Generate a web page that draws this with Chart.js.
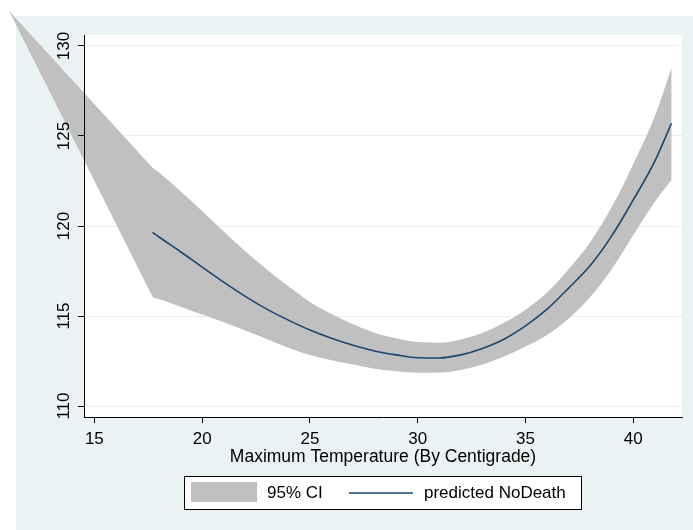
<!DOCTYPE html>
<html>
<head>
<meta charset="utf-8">
<title>Predicted NoDeath by maximum temperature</title>
<script src="https://cdn.jsdelivr.net/npm/chart.js"></script>
<style>
  html, body { margin: 0; padding: 0; background: #fff; }
  #chart { display: block; }
</style>
</head>
<body>
<canvas id="chart" width="693" height="530"></canvas>
<script>
// values
const bandTemp = [11.05, 17.7, 18, 19, 20, 21, 22, 23, 24, 25, 26, 27, 28, 29, 30, 31, 32, 33, 34, 35, 36, 37, 38, 39, 40, 41, 41.77];
const bandUpper = [131.94, 123.23, 122.97, 121.93, 120.83, 119.69, 118.6, 117.58, 116.65, 115.78, 115.11, 114.54, 114.07, 113.76, 113.55, 113.52, 113.7, 114.05, 114.62, 115.35, 116.3, 117.6, 119.1, 121.05, 123.45, 126.1, 128.76];
const bandLower = [131.94, 116.07, 115.94, 115.52, 115.08, 114.65, 114.2, 113.72, 113.24, 112.83, 112.54, 112.3, 112.07, 111.93, 111.85, 111.86, 112.0, 112.3, 112.75, 113.3, 113.95, 114.85, 116.05, 117.6, 119.5, 121.35, 122.56];

const fitTemp = [17.7, 18, 19, 20, 21, 22, 23, 24, 25, 26, 27, 28, 29, 30, 31, 32, 33, 34, 35, 36, 37, 38, 39, 40, 41, 41.77];
const fitValue = [119.65, 119.39, 118.57, 117.72, 116.88, 116.09, 115.38, 114.77, 114.22, 113.76, 113.37, 113.06, 112.84, 112.68, 112.67, 112.84, 113.2, 113.71, 114.45, 115.38, 116.55, 117.8, 119.45, 121.45, 123.6, 125.71];

const xTicks = [15, 20, 25, 30, 35, 40];
const yTicks = [110, 115, 120, 125, 130];
const seriesLabels = ['95% CI', 'predicted NoDeath'];
const xTitle = 'Maximum Temperature (By Centigrade)';

const FONT = '"Liberation Sans", Arial, sans-serif';
const CI_GRAY = '#c0c0c0';
const FIT_BLUE = '#1a476f';
const GRID = '#e6eef1';

const toPoints = (xs, ys) => xs.map((x, i) => ({ x: x, y: ys[i] }));

// stata s2color look: bluish graph region, white plot region, grid lines,
// then the CI area. The area runs past the plot region in the original, so
// it's filled here from the two CI datasets' points (the filler would clip
// it to chartArea). Done before the scales draw so ticks/labels sit on top.
const stataBackground = {
  id: 'stataBackground',
  beforeDraw(chart) {
    const { ctx, chartArea: a, width, height } = chart;
    ctx.save();
    ctx.fillStyle = '#ffffff';
    ctx.fillRect(0, 0, width, height);
    ctx.fillStyle = '#eaf2f3';
    ctx.fillRect(16, 16, width - 16, height - 16);
    ctx.fillStyle = '#ffffff';
    ctx.fillRect(a.left, a.top, a.right - a.left, a.bottom - a.top);

    ctx.strokeStyle = GRID;
    ctx.lineWidth = 1;
    yTicks.forEach(v => {
      const py = Math.round(chart.scales.y.getPixelForValue(v) - 0.5) + 0.5;
      ctx.beginPath();
      ctx.moveTo(a.left, py);
      ctx.lineTo(a.right, py);
      ctx.stroke();
    });

    const upMeta = chart.getDatasetMeta(1);
    const loMeta = chart.getDatasetMeta(2);
    upMeta.dataset.updateControlPoints(a, 'x');
    loMeta.dataset.updateControlPoints(a, 'x');
    const u = upMeta.data;
    const l = loMeta.data;

    ctx.beginPath();
    ctx.moveTo(u[0].x, u[0].y);
    ctx.lineTo(u[1].x, u[1].y);
    for (let i = 2; i < u.length; i++) {
      ctx.bezierCurveTo(u[i - 1].cp2x, u[i - 1].cp2y, u[i].cp1x, u[i].cp1y, u[i].x, u[i].y);
    }
    ctx.lineTo(l[l.length - 1].x, l[l.length - 1].y);
    for (let i = l.length - 2; i >= 1; i--) {
      ctx.bezierCurveTo(l[i + 1].cp1x, l[i + 1].cp1y, l[i].cp2x, l[i].cp2y, l[i].x, l[i].y);
    }
    ctx.lineTo(l[0].x, l[0].y);
    ctx.closePath();
    ctx.fillStyle = chart.data.datasets[2].backgroundColor;
    ctx.fill();
    ctx.restore();
  }
};

// boxed legend under the axis title
const legendBox = {
  id: 'legendBox',
  afterDraw(chart) {
    const ctx = chart.ctx;
    const ds = chart.data.datasets;
    ctx.save();
    ctx.fillStyle = '#ffffff';
    ctx.fillRect(184.5, 476.5, 397, 33);
    ctx.strokeStyle = '#000000';
    ctx.lineWidth = 1;
    ctx.strokeRect(184.5, 476.5, 397, 33);

    ctx.fillStyle = ds[2].backgroundColor;
    ctx.fillRect(191, 482, 66, 20);

    ctx.font = '17px ' + FONT;
    ctx.fillStyle = '#000000';
    ctx.textBaseline = 'middle';
    ctx.fillText(ds[2].label, 267, 493);

    ctx.strokeStyle = ds[0].borderColor;
    ctx.lineWidth = ds[0].borderWidth;
    ctx.beginPath();
    ctx.moveTo(349, 493);
    ctx.lineTo(413, 493);
    ctx.stroke();
    ctx.fillText(ds[0].label, 424, 493);
    ctx.restore();
  }
};

new Chart(document.getElementById('chart'), {
  type: 'line',
  data: {
    datasets: [
      {
        label: seriesLabels[1],
        data: toPoints(fitTemp, fitValue),
        borderColor: FIT_BLUE,
        borderWidth: 1.6,
        pointRadius: 0,
        cubicInterpolationMode: 'monotone',
        fill: false,
        clip: false
      },
      {
        label: seriesLabels[0] + ' upper',
        data: toPoints(bandTemp, bandUpper),
        borderColor: 'rgba(0,0,0,0)',
        borderWidth: 0,
        pointRadius: 0,
        cubicInterpolationMode: 'monotone',
        capBezierPoints: false,
        fill: false,
        clip: false
      },
      {
        label: seriesLabels[0],
        data: toPoints(bandTemp, bandLower),
        borderColor: 'rgba(0,0,0,0)',
        backgroundColor: CI_GRAY,
        borderWidth: 0,
        pointRadius: 0,
        cubicInterpolationMode: 'monotone',
        capBezierPoints: false,
        fill: false,
        clip: false
      }
    ]
  },
  options: {
    responsive: false,
    animation: false,
    events: [],
    devicePixelRatio: 1,
    layout: { padding: { left: 0, top: 35, right: 11, bottom: 0 } },
    plugins: {
      legend: { display: false },
      tooltip: { enabled: false },
      title: { display: false }
    },
    scales: {
      x: {
        type: 'linear',
        min: 14.52,
        max: 42.26,
        afterBuildTicks: s => { s.ticks = xTicks.map(v => ({ value: v })); },
        afterFit: s => { s.height = 113; },
        grid: { drawOnChartArea: false, tickLength: 6, tickColor: '#000000', tickWidth: 1 },
        border: { color: '#000000', width: 1 },
        ticks: { color: '#000000', font: { family: FONT, size: 17 }, padding: 6, maxRotation: 0, autoSkip: false },
        title: {
          display: true,
          text: xTitle,
          color: '#000000',
          font: { family: FONT, size: 17.5 },
          padding: { top: 0, bottom: 62 }
        }
      },
      y: {
        type: 'linear',
        min: 109.39,
        max: 130.61,
        afterBuildTicks: s => { s.ticks = yTicks.map(v => ({ value: v })); },
        afterFit: s => { s.width = 84; },
        grid: { drawOnChartArea: false, color: GRID, tickColor: '#000000', tickLength: 6 },
        border: { color: '#000000', width: 1 },
        ticks: { color: '#000000', font: { family: FONT, size: 17 }, padding: 0, minRotation: 90, maxRotation: 90, crossAlign: 'center' }
      }
    }
  },
  plugins: [stataBackground, legendBox]
});
</script>
</body>
</html>
